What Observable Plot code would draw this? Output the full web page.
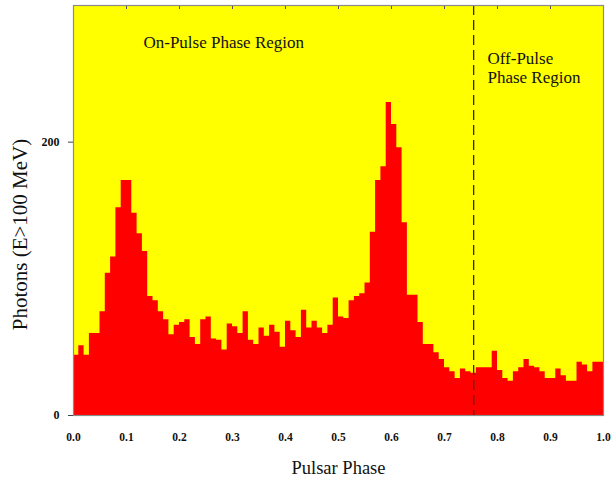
<!DOCTYPE html>
<html><head><meta charset="utf-8">
<script src="https://cdn.jsdelivr.net/npm/d3@7"></script>
<script src="https://cdn.jsdelivr.net/npm/@observablehq/plot@0.6"></script>
<style>body{margin:0;background:#fff} svg{display:block}</style>
</head><body><div id="chart"></div>
<script>
// Photon counts per phase bin (100 bins of width 0.01)
const counts = [
  44, 51, 44, 60, 60, 76, 104, 116, 152, 172,
  172, 148, 133, 120, 87, 84, 76, 70, 59, 66,
  68, 70, 57, 52, 70, 72, 56, 55, 48, 67,
  65, 60, 76, 55, 52, 64, 58, 66, 61, 50,
  69, 62, 57, 77, 64, 69, 64, 60, 66, 86,
  72, 71, 84, 87, 89, 97, 134, 172, 182, 229,
  213, 196, 141, 88, 88, 68, 52, 52, 46, 41,
  35, 32, 27, 34, 32, 31, 35, 35, 35, 47,
  33, 27, 25, 32, 35, 41, 36, 35, 32, 27,
  27, 34, 29, 25, 25, 39, 37, 32, 39, 39
];
const binWidth = 0.01;
const xTicks = [0, 0.1, 0.2, 0.3, 0.4, 0.5, 0.6, 0.7, 0.8, 0.9, 1.0];
const yTicks = [0, 200];
const offPulseStart = [0.755];
const annotText = ["On-Pulse Phase Region", "Off-Pulse", "Phase Region"];
const annotX = [0.132, 0.781, 0.781];
const annotY = [273, 261, 247];
const xTitle = ["Pulsar Phase"];
const yTitle = ["Photons (E>100 MeV)"];

// step outline: each bin's left edge, plus the closing right edge of the last bin
const steps = counts.map((c, i) => ({x: i * binWidth, count: c}));
steps.push({x: counts.length * binWidth, count: counts[counts.length - 1]});
const annots = annotText.map((t, i) => ({t, x: annotX[i], y: annotY[i]}));

const chart = Plot.plot({
  width: 613, height: 481,
  marginLeft: 73, marginRight: 10, marginTop: 5, marginBottom: 66,
  style: {fontFamily: "'Liberation Serif', 'DejaVu Serif', serif", background: "#fff", color: "#111"},
  x: {domain: [0, 1]},
  y: {domain: [0, 300]},
  marks: [
    Plot.frame({fill: "#ffff00"}),
    Plot.areaY(steps, {x: "x", y: "count", curve: "step-after", fill: "#ff0000"}),
    Plot.ruleX(offPulseStart, {x: d => d, stroke: "#2a2a2a", strokeDasharray: "10,5", strokeWidth: 1.3}),
    Plot.text(annots, {x: "x", y: "y", text: "t", textAnchor: "start", fontSize: 17, fill: "#111"}),
    Plot.tickX(xTicks, {x: d => d, insetBottom: 406, stroke: "#555"}),
    Plot.frame({stroke: "#8a8a8a", strokeWidth: 1.2}),
    Plot.axisX({ticks: xTicks, tickFormat: d3.format(".1f"), tickSize: 0, tickPadding: 17, fontSize: 11.5, fontWeight: "bold", label: null}),
    Plot.axisY({ticks: yTicks, tickSize: 5, tickPadding: 9, fontSize: 12, fontWeight: "bold", label: null, stroke: "#444"}),
    Plot.text(xTitle, {text: d => d, frameAnchor: "bottom", textAnchor: "middle", lineAnchor: "middle", dy: 53, fontSize: 18.5, fill: "#111"}),
    Plot.text(yTitle, {text: d => d, frameAnchor: "left", textAnchor: "middle", lineAnchor: "middle", rotate: -90, dx: -53, dy: 24, fontSize: 21, fill: "#111"})
  ]
});
document.getElementById("chart").appendChild(chart);
</script>
</body></html>
